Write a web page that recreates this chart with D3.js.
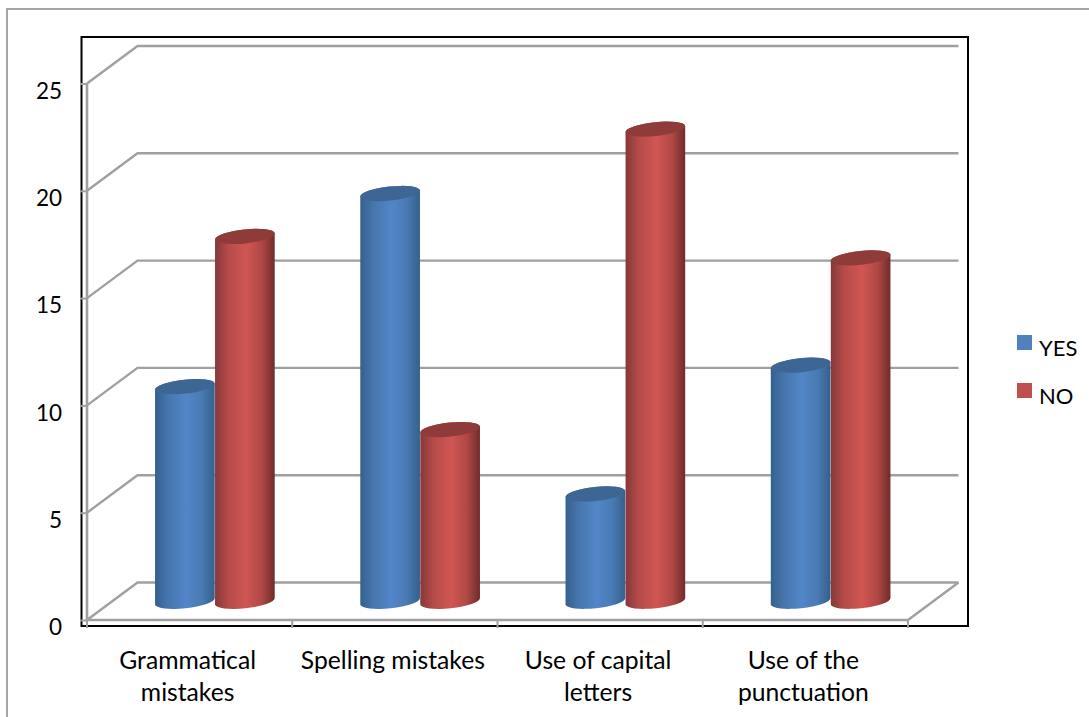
<!DOCTYPE html>
<html>
<head>
<meta charset="utf-8">
<script src="https://cdn.jsdelivr.net/npm/d3@7"></script>
<style>
  html, body { margin: 0; padding: 0; background: #fff; overflow: hidden; }
  text { font-family: Lato, "Open Sans", sans-serif; fill: #000; }
</style>
</head>
<body>
<svg id="chart" width="1089" height="717"></svg>
<script>
const categories = [
  ['Grammatical', 'mistakes'],
  ['Spelling mistakes'],
  ['Use of capital', 'letters'],
  ['Use of the', 'punctuation']
];
const seriesNames = ['YES', 'NO'];
const yesValues = [10, 19, 5, 11];
const noValues = [17, 8, 22, 16];
const yTicks = [0, 5, 10, 15, 20, 25];

const width = 1089;
const height = 717;
const box = { left: 81.5, right: 968, top: 37, bottom: 626 };
const front = { left: 87, right: 908, top: 83.5, bottom: 620 };
const depth = { x: 50.5, y: -37.5 };
const gridColor = '#a0a0a0';
const tickFont = 22.5;
const labelFont = 24.7;
const legendFont = 22;
const rx = 30, ry = 7, tilt = -6;

const colors = {
  YES: { swatch: '#4f81bd', top: '#3e6695', stops: ['#35608f', '#4776ad', '#5186c8', '#4a7ab3', '#34608c'] },
  NO: { swatch: '#c0504d', top: '#8e3b39', stops: ['#85383a', '#b54b49', '#d05653', '#b04846', '#702c2b'] }
};

const svg = d3.select('#chart').attr('width', width).attr('height', height);
const defs = svg.append('defs');

seriesNames.forEach(name => {
  defs.append('linearGradient')
    .attr('id', 'grad' + name)
    .selectAll('stop')
    .data(colors[name].stops)
    .enter()
    .append('stop')
    .attr('offset', (d, i) => [0, 0.22, 0.52, 0.78, 1][i])
    .attr('stop-color', d => d);
});

// outer frame runs off the right and bottom of the page
svg.append('path')
  .attr('d', `M${width},9H7V${height}`)
  .attr('fill', 'none')
  .attr('stroke', '#a6a6a6')
  .attr('stroke-width', 2);

svg.append('rect')
  .attr('x', box.left)
  .attr('y', box.top)
  .attr('width', box.right - box.left)
  .attr('height', box.bottom - box.top)
  .attr('fill', '#fff')
  .attr('stroke', '#000')
  .attr('stroke-width', 2);

const yScale = d3.scaleLinear().domain([0, 25]).range([front.bottom, front.top]);
const xScale = d3.scaleBand().domain(categories.map((d, i) => i)).range([front.left, front.right]);
const barScale = d3.scaleBand().domain(seriesNames).range([-60, 60]);

// gridlines go along the side wall and then across the back wall
svg.append('g').selectAll('path')
  .data(yTicks)
  .enter()
  .append('path')
  .attr('d', d => `M${front.left},${yScale(d)}l${depth.x},${depth.y}H${front.right + depth.x}`)
  .attr('fill', 'none')
  .attr('stroke', gridColor)
  .attr('stroke-width', 2.4);

// floor edge on the right
svg.append('path')
  .attr('d', `M${front.left},${front.bottom}H${front.right}l${depth.x},${depth.y}`)
  .attr('fill', 'none')
  .attr('stroke', gridColor)
  .attr('stroke-width', 2.4);

// y axis
const yAxis = svg.append('g')
  .attr('transform', `translate(${front.left},0)`)
  .call(d3.axisLeft(yScale).tickValues(yTicks).tickSize(7).tickPadding(18));
yAxis.select('.domain').attr('stroke', gridColor).attr('stroke-width', 2.6).attr('d', `M0,${front.top}V${front.bottom}`);
yAxis.selectAll('.tick line').attr('stroke', gridColor).attr('stroke-width', 2);
yAxis.selectAll('.tick text')
  .attr('font-size', tickFont)
  .attr('font-family', 'Lato, "Open Sans", sans-serif')
  .attr('dy', '0.66em')
  .attr('fill', '#000');

// x axis ticks sit on the band edges, labels on the band centres
const xEdges = xScale.domain().map(d => xScale(d)).concat([front.right]);
svg.append('g').selectAll('line')
  .data(xEdges)
  .enter()
  .append('line')
  .attr('x1', d => d)
  .attr('x2', d => d)
  .attr('y1', front.bottom)
  .attr('y2', front.bottom + 8)
  .attr('stroke', gridColor)
  .attr('stroke-width', 2);

const xAxis = svg.append('g')
  .attr('transform', `translate(0,${front.bottom})`)
  .call(d3.axisBottom(xScale).tickSize(0).tickFormat(''));
xAxis.select('.domain').remove();
xAxis.selectAll('.tick').each(function (d) {
  const label = d3.select(this).select('text')
    .attr('y', 49)
    .attr('dy', 0)
    .attr('x', -2)
    .attr('font-size', labelFont)
    .attr('font-family', 'Lato, "Open Sans", sans-serif')
    .attr('fill', '#000');
  label.selectAll('tspan')
    .data(categories[d])
    .enter()
    .append('tspan')
    .attr('x', -2)
    .attr('dy', (t, i) => i ? 32 : 0)
    .text(t => t);
});

// cylinders: body first, then the darker tilted cap
const endX = rx * Math.cos(tilt * Math.PI / 180);
const endY = rx * Math.sin(tilt * Math.PI / 180);
const baseY = yScale(0) + depth.y / 2;

function cylinder(g, name, i, value) {
  const cx = xScale(i) + xScale.bandwidth() / 2 + depth.x / 2 + barScale(name) + barScale.bandwidth() / 2;
  const topY = yScale(value) + depth.y / 2;
  const d = `M${cx - endX},${topY - endY}`
    + `L${cx - endX},${baseY - endY}`
    + `A${rx},${ry} ${tilt} 0 0 ${cx + endX},${baseY + endY}`
    + `L${cx + endX},${topY + endY}`
    + `A${rx},${ry} ${tilt} 0 0 ${cx - endX},${topY - endY}Z`;
  g.append('path').attr('d', d).attr('fill', `url(#grad${name})`);
  g.append('ellipse')
    .attr('cx', cx)
    .attr('cy', topY)
    .attr('rx', rx)
    .attr('ry', ry)
    .attr('transform', `rotate(${tilt} ${cx} ${topY})`)
    .attr('fill', colors[name].top);
}

const bars = svg.append('g');
categories.forEach((c, i) => {
  cylinder(bars, 'YES', i, yesValues[i]);
  cylinder(bars, 'NO', i, noValues[i]);
});

// legend
const legend = svg.append('g').selectAll('g')
  .data(seriesNames)
  .enter()
  .append('g')
  .attr('transform', (d, i) => `translate(1017,${335 + i * 48})`);
legend.append('rect')
  .attr('width', 15)
  .attr('height', 15)
  .attr('fill', d => colors[d].swatch);
legend.append('text')
  .attr('x', 22)
  .attr('y', 21)
  .attr('font-size', legendFont)
  .text(d => d);
</script>
</body>
</html>
